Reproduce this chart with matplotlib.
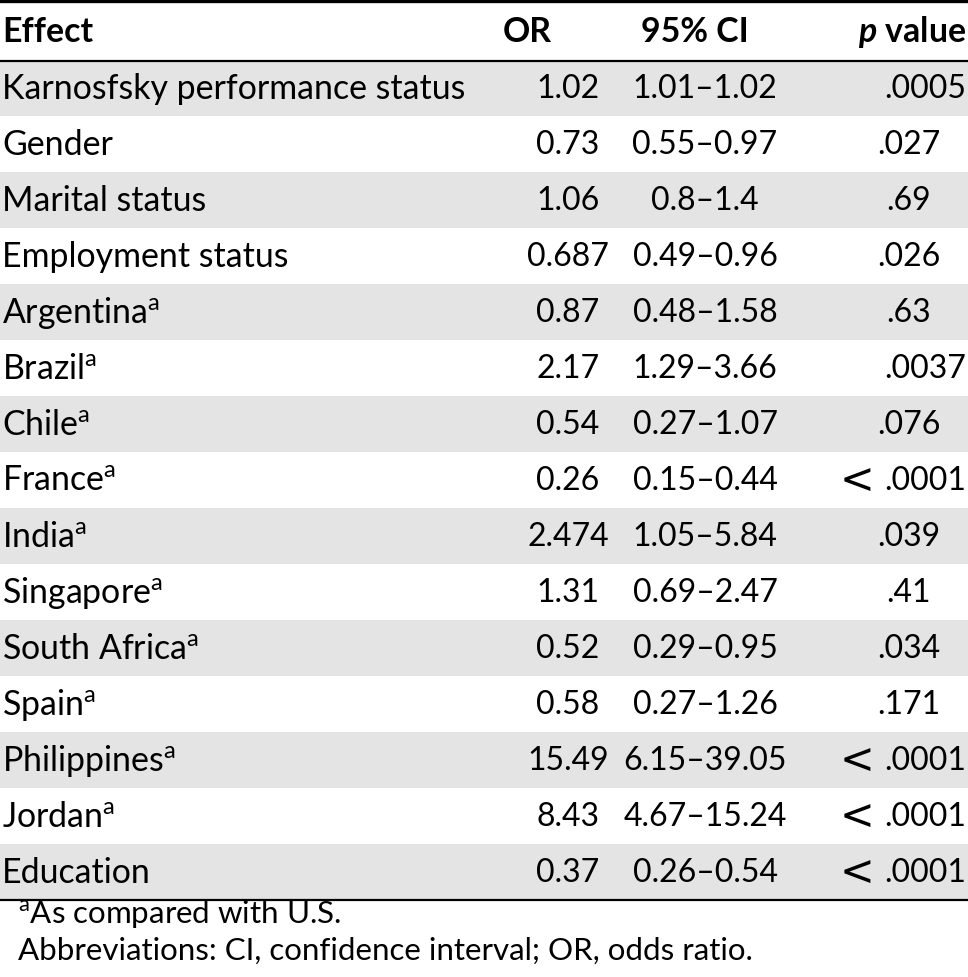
import matplotlib.pyplot as plt
from matplotlib.patches import Rectangle

plt.rcParams['font.family'] = ['Lato', 'DejaVu Sans']
plt.rcParams['mathtext.fontset'] = 'custom'
plt.rcParams['mathtext.rm'] = 'Lato'
plt.rcParams['mathtext.it'] = 'Lato:italic'
plt.rcParams['mathtext.bf'] = 'Lato:bold'
plt.rcParams['mathtext.bfit'] = 'Lato:italic:bold'

headers = ['Effect', 'OR', '95% CI', r'$\mathbfit{p}$ value']
effects = ['Karnosfsky performance status', 'Gender', 'Marital status',
           'Employment status', 'Argentina', 'Brazil', 'Chile', 'France',
           'India', 'Singapore', 'South Africa', 'Spain', 'Philippines',
           'Jordan', 'Education']
vs_us = [False, False, False, False, True, True, True, True,
         True, True, True, True, True, True, False]
odds = ['1.02', '0.73', '1.06', '0.687', '0.87', '2.17', '0.54', '0.26',
        '2.474', '1.31', '0.52', '0.58', '15.49', '8.43', '0.37']
ci = ['1.01–1.02', '0.55–0.97', '0.8–1.4', '0.49–0.96', '0.48–1.58',
      '1.29–3.66', '0.27–1.07', '0.15–0.44', '1.05–5.84', '0.69–2.47',
      '0.29–0.95', '0.27–1.26', '6.15–39.05', '4.67–15.24', '0.26–0.54']
pvals = ['.0005', '.027', '.69', '.026', '.63', '.0037', '.076', '<.0001',
         '.039', '.41', '.034', '.171', '<.0001', '<.0001', '<.0001']
notes = [r'$^{\mathrm{a}}$As compared with U.S.',
         'Abbreviations: CI, confidence interval; OR, odds ratio.']

W, H = 968, 978
fig = plt.figure(figsize=(W / 100, H / 100), dpi=100)
ax = fig.add_axes([0, 0, 1, 1])
ax.set_xlim(0, W)
ax.set_ylim(H, 0)
ax.axis('off')
renderer = fig.canvas.get_renderer()

fs = 24.4   # text
nfs = 23    # numbers
top = 61.5
bottom = 900.5
rh = (bottom - top) / len(effects)

# header
ax.plot([0, W], [1.5, 1.5], color='black', lw=2.4)
hy = 32
ax.text(2, hy, headers[0], fontsize=fs, fontweight='bold', va='center', ha='left')
ax.text(503, hy, headers[1], fontsize=fs, fontweight='bold', va='center', ha='left')
ax.text(641, hy, headers[2], fontsize=fs, fontweight='bold', va='center', ha='left')
ax.text(966, hy, headers[3], fontsize=fs, fontweight='bold', va='center', ha='right')


def draw_p(s, yc):
    if len(s) < 5:
        ax.text(909, yc, s, fontsize=nfs, va='center', ha='center')
        return
    if s.startswith('<'):
        t = ax.text(966, yc, s[1:], fontsize=nfs, va='center', ha='right')
        bb = t.get_window_extent(renderer)
        ax.text(W - bb.width - 12, yc, '<', fontsize=nfs * 1.3,
                va='center', ha='right', family=['DejaVu Sans'])
    else:
        ax.text(966, yc, s, fontsize=nfs, va='center', ha='right')


for i, name in enumerate(effects):
    y0 = top + i * rh
    if i % 2 == 0:
        ax.add_patch(Rectangle((0, y0), W, rh, color='#e4e4e4', lw=0))
    yc = y0 + rh / 2
    label = name + (r'$^{\mathrm{a}}$' if vs_us[i] else '')
    ax.text(2, yc, label, fontsize=fs, va='center', ha='left')
    ax.text(568, yc, odds[i], fontsize=nfs, va='center', ha='center')
    ax.text(705, yc, ci[i], fontsize=nfs, va='center', ha='center')
    draw_p(pvals[i], yc)

ax.plot([0, W], [top, top], color='black', lw=1.6)
ax.plot([0, W], [bottom, bottom], color='black', lw=1.6)

ax.text(18, 914, notes[0], fontsize=22.5, va='center', ha='left')
ax.text(18, 951, notes[1], fontsize=22.5, va='center', ha='left')

fig.savefig('out.png', dpi=100)
